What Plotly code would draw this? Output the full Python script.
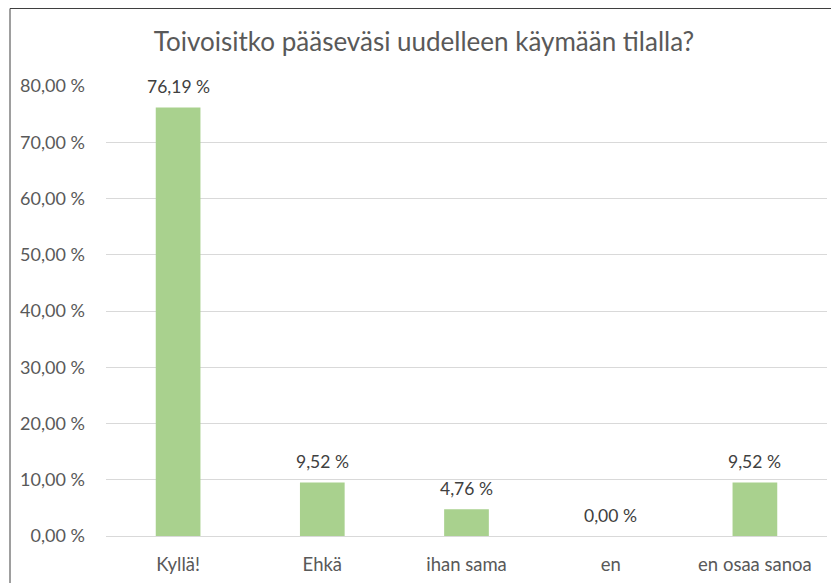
import plotly.graph_objects as go

categories = ["Kyllä!", "Ehkä", "ihan sama", "en", "en osaa sanoa"]
values = [76.19, 9.52, 4.76, 0.00, 9.52]
tick_vals = [0, 10, 20, 30, 40, 50, 60, 70, 80]
tick_text = ["0,00 %", "10,00 %", "20,00 %", "30,00 %", "40,00 %",
             "50,00 %", "60,00 %", "70,00 %", "80,00 %"]
title_text = "Toivoisitko pääseväsi uudelleen käymään tilalla?"

labels = [f"{v:.2f} %".replace(".", ",") for v in values]

FONT = "Lato, 'Open Sans', sans-serif"
GREY = "#595959"

fig = go.Figure(go.Bar(
    x=categories, y=values,
    marker=dict(color="#a9d18e", line=dict(width=0)),
    width=0.31,
    hoverinfo="skip",
))

# page has an 8px body margin; figure coordinates = window - 8
W, H = 831, 575
L, R, T, B = 98, 12, 78, 47
pw, ph = W - L - R, H - T - B

annotations = [dict(x=c, y=v, xref="x", yref="y", text=t, showarrow=False,
                    yanchor="middle", yshift=21,
                    font=dict(family=FONT, size=17.5, color="#404040"))
               for c, v, t in zip(categories, values, labels)]

fig.update_layout(
    width=W, height=H,
    margin=dict(l=L, r=R, t=T, b=B, autoexpand=False),
    paper_bgcolor="white", plot_bgcolor="white",
    showlegend=False,
    title=dict(text=title_text, x=416 / W, xref="container", xanchor="center",
               y=1 - 34 / H, yanchor="middle",
               font=dict(family=FONT, size=26, color=GREY)),
    xaxis=dict(showgrid=False, showline=False, zeroline=False, automargin=False,
               tickfont=dict(family=FONT, size=18.5, color=GREY),
               ticks="", ticklabelstandoff=15),
    yaxis=dict(range=[0, 80], tickvals=tick_vals, ticktext=tick_text,
               automargin=False,
               showgrid=True, gridcolor="#d9d9d9", gridwidth=1,
               zeroline=True, zerolinecolor="#d9d9d9", zerolinewidth=1,
               showline=False, ticks="",
               tickfont=dict(family=FONT, size=18, color=GREY),
               ticklabelstandoff=20),
    annotations=annotations,
    shapes=[dict(type="rect", xref="paper", yref="paper",
                 x0=(2 - L) / pw, x1=(W + 20 - L) / pw,
                 y0=-(B + 20) / ph, y1=(H - B - 0.5) / ph,
                 line=dict(color="#3f3f3f", width=1), fillcolor="rgba(0,0,0,0)",
                 layer="below")],
)

fig.write_html("out.html")
